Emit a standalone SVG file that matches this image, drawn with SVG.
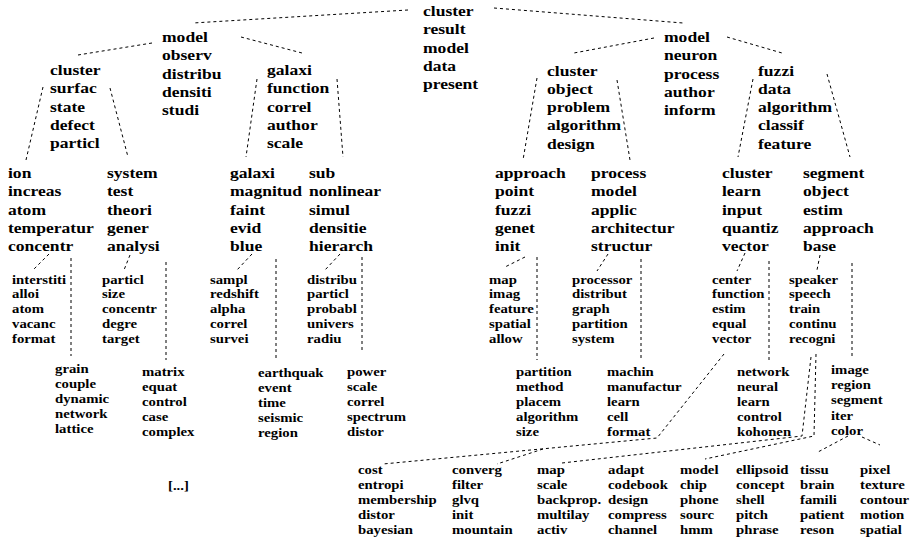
<svg xmlns="http://www.w3.org/2000/svg" width="912" height="539" viewBox="0 0 912 539">
<style>
text{font-family:"Liberation Serif","Times New Roman",serif;font-weight:bold;fill:#000}
.b{font-size:15px}
.s{font-size:12.3px}
.c line,.c polyline{stroke:#000;stroke-width:1;stroke-dasharray:3,3;fill:none}
</style>
<rect width="912" height="539" fill="#fff"/>
<g class="c" id="connectors">
<line x1="408" y1="10" x2="193" y2="23"/>
<line x1="494" y1="8" x2="683" y2="23"/>
<line x1="152" y1="43" x2="78" y2="55"/>
<line x1="241" y1="37" x2="302" y2="53"/>
<line x1="654" y1="38" x2="574" y2="53"/>
<line x1="727" y1="37" x2="782" y2="53"/>
<line x1="43" y1="87" x2="26" y2="160"/>
<line x1="110" y1="88" x2="128" y2="157"/>
<line x1="257" y1="79" x2="246" y2="157"/>
<line x1="337" y1="79" x2="343" y2="157"/>
<line x1="537" y1="78" x2="523" y2="160"/>
<line x1="617" y1="80" x2="630" y2="160"/>
<line x1="753" y1="79" x2="738" y2="157"/>
<line x1="827" y1="74" x2="850" y2="157"/>
<line x1="49" y1="254" x2="33" y2="270"/>
<line x1="71" y1="258" x2="71" y2="356"/>
<line x1="130" y1="255" x2="124" y2="270"/>
<line x1="166" y1="262" x2="166" y2="360"/>
<line x1="252" y1="254" x2="237" y2="270"/>
<line x1="276" y1="259" x2="276" y2="358"/>
<line x1="340" y1="254" x2="325" y2="270"/>
<line x1="362" y1="257" x2="362" y2="351"/>
<line x1="525" y1="257" x2="505" y2="267"/>
<line x1="537" y1="257" x2="537" y2="360"/>
<line x1="608" y1="254" x2="597" y2="271"/>
<line x1="641" y1="259" x2="641" y2="359"/>
<line x1="745" y1="253" x2="737" y2="271"/>
<line x1="769" y1="261" x2="769" y2="360"/>
<line x1="820" y1="255" x2="817" y2="270"/>
<line x1="852" y1="263" x2="852" y2="359"/>
<polyline points="724,354 657,438 383,464"/>
<line x1="543" y1="449" x2="497" y2="464"/>
<polyline points="811,357 802,436 562,463"/>
<polyline points="816,354 814,436 705,459"/>
<line x1="848" y1="436" x2="818" y2="452"/>
<line x1="862" y1="437" x2="880" y2="445"/>
</g>
<g id="n-root" transform="translate(423,16) scale(1.17,1)"><text class="b"><tspan x="0" y="0">cluster</tspan><tspan x="0" y="18.3">result</tspan><tspan x="0" y="36.6">model</tspan><tspan x="0" y="54.9">data</tspan><tspan x="0" y="73.2">present</tspan></text></g>
<g id="n-l" transform="translate(162,42) scale(1.17,1)"><text class="b"><tspan x="0" y="0">model</tspan><tspan x="0" y="18.3">observ</tspan><tspan x="0" y="36.6">distribu</tspan><tspan x="0" y="54.9">densiti</tspan><tspan x="0" y="73.2">studi</tspan></text></g>
<g id="n-r" transform="translate(664,42) scale(1.17,1)"><text class="b"><tspan x="0" y="0">model</tspan><tspan x="0" y="18.3">neuron</tspan><tspan x="0" y="36.6">process</tspan><tspan x="0" y="54.9">author</tspan><tspan x="0" y="73.2">inform</tspan></text></g>
<g id="n-ll" transform="translate(50,75) scale(1.17,1)"><text class="b"><tspan x="0" y="0">cluster</tspan><tspan x="0" y="18.3">surfac</tspan><tspan x="0" y="36.6">state</tspan><tspan x="0" y="54.9">defect</tspan><tspan x="0" y="73.2">particl</tspan></text></g>
<g id="n-lr" transform="translate(267,75) scale(1.17,1)"><text class="b"><tspan x="0" y="0">galaxi</tspan><tspan x="0" y="18.3">function</tspan><tspan x="0" y="36.6">correl</tspan><tspan x="0" y="54.9">author</tspan><tspan x="0" y="73.2">scale</tspan></text></g>
<g id="n-rl" transform="translate(547,75.5) scale(1.17,1)"><text class="b"><tspan x="0" y="0">cluster</tspan><tspan x="0" y="18.3">object</tspan><tspan x="0" y="36.6">problem</tspan><tspan x="0" y="54.9">algorithm</tspan><tspan x="0" y="73.2">design</tspan></text></g>
<g id="n-rr" transform="translate(758,75.5) scale(1.17,1)"><text class="b"><tspan x="0" y="0">fuzzi</tspan><tspan x="0" y="18.3">data</tspan><tspan x="0" y="36.6">algorithm</tspan><tspan x="0" y="54.9">classif</tspan><tspan x="0" y="73.2">feature</tspan></text></g>
<g id="n-lll" transform="translate(8,178) scale(1.17,1)"><text class="b"><tspan x="0" y="0">ion</tspan><tspan x="0" y="18.3">increas</tspan><tspan x="0" y="36.6">atom</tspan><tspan x="0" y="54.9">temperatur</tspan><tspan x="0" y="73.2">concentr</tspan></text></g>
<g id="n-llr" transform="translate(107,178) scale(1.17,1)"><text class="b"><tspan x="0" y="0">system</tspan><tspan x="0" y="18.3">test</tspan><tspan x="0" y="36.6">theori</tspan><tspan x="0" y="54.9">gener</tspan><tspan x="0" y="73.2">analysi</tspan></text></g>
<g id="n-lrl" transform="translate(230,178) scale(1.17,1)"><text class="b"><tspan x="0" y="0">galaxi</tspan><tspan x="0" y="18.3">magnitud</tspan><tspan x="0" y="36.6">faint</tspan><tspan x="0" y="54.9">evid</tspan><tspan x="0" y="73.2">blue</tspan></text></g>
<g id="n-lrr" transform="translate(309,178) scale(1.17,1)"><text class="b"><tspan x="0" y="0">sub</tspan><tspan x="0" y="18.3">nonlinear</tspan><tspan x="0" y="36.6">simul</tspan><tspan x="0" y="54.9">densitie</tspan><tspan x="0" y="73.2">hierarch</tspan></text></g>
<g id="n-rll" transform="translate(495,178) scale(1.17,1)"><text class="b"><tspan x="0" y="0">approach</tspan><tspan x="0" y="18.3">point</tspan><tspan x="0" y="36.6">fuzzi</tspan><tspan x="0" y="54.9">genet</tspan><tspan x="0" y="73.2">init</tspan></text></g>
<g id="n-rlr" transform="translate(591,178) scale(1.17,1)"><text class="b"><tspan x="0" y="0">process</tspan><tspan x="0" y="18.3">model</tspan><tspan x="0" y="36.6">applic</tspan><tspan x="0" y="54.9">architectur</tspan><tspan x="0" y="73.2">structur</tspan></text></g>
<g id="n-rrl" transform="translate(722,178) scale(1.17,1)"><text class="b"><tspan x="0" y="0">cluster</tspan><tspan x="0" y="18.3">learn</tspan><tspan x="0" y="36.6">input</tspan><tspan x="0" y="54.9">quantiz</tspan><tspan x="0" y="73.2">vector</tspan></text></g>
<g id="n-rrr" transform="translate(803,178) scale(1.17,1)"><text class="b"><tspan x="0" y="0">segment</tspan><tspan x="0" y="18.3">object</tspan><tspan x="0" y="36.6">estim</tspan><tspan x="0" y="54.9">approach</tspan><tspan x="0" y="73.2">base</tspan></text></g>
<g id="n-a1" transform="translate(12,283.6) scale(1.2,1)"><text class="s"><tspan x="0" y="0">interstiti</tspan><tspan x="0" y="14.8">alloi</tspan><tspan x="0" y="29.6">atom</tspan><tspan x="0" y="44.4">vacanc</tspan><tspan x="0" y="59.2">format</tspan></text></g>
<g id="n-a2" transform="translate(102,283.6) scale(1.2,1)"><text class="s"><tspan x="0" y="0">particl</tspan><tspan x="0" y="14.8">size</tspan><tspan x="0" y="29.6">concentr</tspan><tspan x="0" y="44.4">degre</tspan><tspan x="0" y="59.2">target</tspan></text></g>
<g id="n-a3" transform="translate(210,283.6) scale(1.2,1)"><text class="s"><tspan x="0" y="0">sampl</tspan><tspan x="0" y="14.8">redshift</tspan><tspan x="0" y="29.6">alpha</tspan><tspan x="0" y="44.4">correl</tspan><tspan x="0" y="59.2">survei</tspan></text></g>
<g id="n-a4" transform="translate(307,283.6) scale(1.2,1)"><text class="s"><tspan x="0" y="0">distribu</tspan><tspan x="0" y="14.8">particl</tspan><tspan x="0" y="29.6">probabl</tspan><tspan x="0" y="44.4">univers</tspan><tspan x="0" y="59.2">radiu</tspan></text></g>
<g id="n-a5" transform="translate(489,283.6) scale(1.2,1)"><text class="s"><tspan x="0" y="0">map</tspan><tspan x="0" y="14.8">imag</tspan><tspan x="0" y="29.6">feature</tspan><tspan x="0" y="44.4">spatial</tspan><tspan x="0" y="59.2">allow</tspan></text></g>
<g id="n-a6" transform="translate(572,283.6) scale(1.2,1)"><text class="s"><tspan x="0" y="0">processor</tspan><tspan x="0" y="14.8">distribut</tspan><tspan x="0" y="29.6">graph</tspan><tspan x="0" y="44.4">partition</tspan><tspan x="0" y="59.2">system</tspan></text></g>
<g id="n-a7" transform="translate(712,283.6) scale(1.2,1)"><text class="s"><tspan x="0" y="0">center</tspan><tspan x="0" y="14.8">function</tspan><tspan x="0" y="29.6">estim</tspan><tspan x="0" y="44.4">equal</tspan><tspan x="0" y="59.2">vector</tspan></text></g>
<g id="n-a8" transform="translate(789,283.6) scale(1.2,1)"><text class="s"><tspan x="0" y="0">speaker</tspan><tspan x="0" y="14.8">speech</tspan><tspan x="0" y="29.6">train</tspan><tspan x="0" y="44.4">continu</tspan><tspan x="0" y="59.2">recogni</tspan></text></g>
<g id="n-b1" transform="translate(55,372.5) scale(1.2,1)"><text class="s"><tspan x="0" y="0">grain</tspan><tspan x="0" y="15.1">couple</tspan><tspan x="0" y="30.2">dynamic</tspan><tspan x="0" y="45.3">network</tspan><tspan x="0" y="60.4">lattice</tspan></text></g>
<g id="n-b2" transform="translate(142,375.5) scale(1.2,1)"><text class="s"><tspan x="0" y="0">matrix</tspan><tspan x="0" y="15.1">equat</tspan><tspan x="0" y="30.2">control</tspan><tspan x="0" y="45.3">case</tspan><tspan x="0" y="60.4">complex</tspan></text></g>
<g id="n-b3" transform="translate(258,376.5) scale(1.2,1)"><text class="s"><tspan x="0" y="0">earthquak</tspan><tspan x="0" y="15.1">event</tspan><tspan x="0" y="30.2">time</tspan><tspan x="0" y="45.3">seismic</tspan><tspan x="0" y="60.4">region</tspan></text></g>
<g id="n-b4" transform="translate(347,375.5) scale(1.2,1)"><text class="s"><tspan x="0" y="0">power</tspan><tspan x="0" y="15.1">scale</tspan><tspan x="0" y="30.2">correl</tspan><tspan x="0" y="45.3">spectrum</tspan><tspan x="0" y="60.4">distor</tspan></text></g>
<g id="n-b5" transform="translate(516,376) scale(1.2,1)"><text class="s"><tspan x="0" y="0">partition</tspan><tspan x="0" y="15.1">method</tspan><tspan x="0" y="30.2">placem</tspan><tspan x="0" y="45.3">algorithm</tspan><tspan x="0" y="60.4">size</tspan></text></g>
<g id="n-b6" transform="translate(607,376) scale(1.2,1)"><text class="s"><tspan x="0" y="0">machin</tspan><tspan x="0" y="15.1">manufactur</tspan><tspan x="0" y="30.2">learn</tspan><tspan x="0" y="45.3">cell</tspan><tspan x="0" y="60.4">format</tspan></text></g>
<g id="n-b7" transform="translate(737,376) scale(1.2,1)"><text class="s"><tspan x="0" y="0">network</tspan><tspan x="0" y="15.1">neural</tspan><tspan x="0" y="30.2">learn</tspan><tspan x="0" y="45.3">control</tspan><tspan x="0" y="60.4">kohonen</tspan></text></g>
<g id="n-b8" transform="translate(831,374.3) scale(1.2,1)"><text class="s"><tspan x="0" y="0">image</tspan><tspan x="0" y="15.1">region</tspan><tspan x="0" y="30.2">segment</tspan><tspan x="0" y="45.3">iter</tspan><tspan x="0" y="60.4">color</tspan></text></g>
<g id="n-c1" transform="translate(358,474.3) scale(1.2,1)"><text class="s"><tspan x="0" y="0">cost</tspan><tspan x="0" y="15">entropi</tspan><tspan x="0" y="30">membership</tspan><tspan x="0" y="45">distor</tspan><tspan x="0" y="60">bayesian</tspan></text></g>
<g id="n-c2" transform="translate(452,474.3) scale(1.2,1)"><text class="s"><tspan x="0" y="0">converg</tspan><tspan x="0" y="15">filter</tspan><tspan x="0" y="30">glvq</tspan><tspan x="0" y="45">init</tspan><tspan x="0" y="60">mountain</tspan></text></g>
<g id="n-c3" transform="translate(537,474.3) scale(1.2,1)"><text class="s"><tspan x="0" y="0">map</tspan><tspan x="0" y="15">scale</tspan><tspan x="0" y="30">backprop.</tspan><tspan x="0" y="45">multilay</tspan><tspan x="0" y="60">activ</tspan></text></g>
<g id="n-c4" transform="translate(608,474.3) scale(1.2,1)"><text class="s"><tspan x="0" y="0">adapt</tspan><tspan x="0" y="15">codebook</tspan><tspan x="0" y="30">design</tspan><tspan x="0" y="45">compress</tspan><tspan x="0" y="60">channel</tspan></text></g>
<g id="n-c5" transform="translate(680,474.3) scale(1.2,1)"><text class="s"><tspan x="0" y="0">model</tspan><tspan x="0" y="15">chip</tspan><tspan x="0" y="30">phone</tspan><tspan x="0" y="45">sourc</tspan><tspan x="0" y="60">hmm</tspan></text></g>
<g id="n-c6" transform="translate(736,474.3) scale(1.2,1)"><text class="s"><tspan x="0" y="0">ellipsoid</tspan><tspan x="0" y="15">concept</tspan><tspan x="0" y="30">shell</tspan><tspan x="0" y="45">pitch</tspan><tspan x="0" y="60">phrase</tspan></text></g>
<g id="n-c7" transform="translate(800,474.3) scale(1.2,1)"><text class="s"><tspan x="0" y="0">tissu</tspan><tspan x="0" y="15">brain</tspan><tspan x="0" y="30">famili</tspan><tspan x="0" y="45">patient</tspan><tspan x="0" y="60">reson</tspan></text></g>
<g id="n-c8" transform="translate(860,474.3) scale(1.2,1)"><text class="s"><tspan x="0" y="0">pixel</tspan><tspan x="0" y="15">texture</tspan><tspan x="0" y="30">contour</tspan><tspan x="0" y="45">motion</tspan><tspan x="0" y="60">spatial</tspan></text></g>
<g id="n-ellipsis" transform="translate(168,490) scale(1.2,1)"><text class="s"><tspan x="0" y="0">[...]</tspan></text></g>
</svg>
